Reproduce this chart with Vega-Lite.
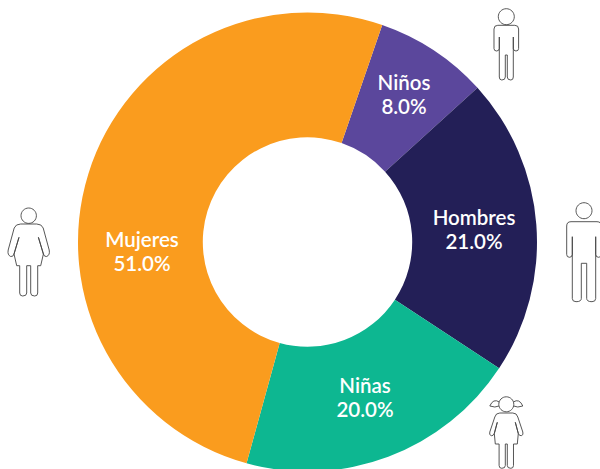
{
"$schema":"https://vega.github.io/schema/vega-lite/v6.json",
"width":600,"height":469,"padding":0,
"autosize":{"type":"none"},
"background":"#ffffff",
"view":{"stroke":null},
"datasets":{
"segmentos":[
{"categoria":"Niños","valor":8,"orden":1,"etiqueta":"Niños\n8.0%","ex":96.5,"ey":158,"cx":0,"cy":0},
{"categoria":"Hombres","valor":21,"orden":2,"etiqueta":"Hombres\n21.0%","ex":166.5,"ey":23,"cx":0,"cy":0},
{"categoria":"Niñas","valor":20,"orden":3,"etiqueta":"Niñas\n20.0%","ex":57.5,"ey":-145,"cx":0,"cy":0},
{"categoria":"Mujeres","valor":51,"orden":4,"etiqueta":"Mujeres\n51.0%","ex":-165.5,"ey":1,"cx":0,"cy":0}
],
"figuras":[
{"figura":"Niño","fx":198.8,"fy":198},
{"figura":"Hombre","fx":276.5,"fy":-13},
{"figura":"Mujer","fx":-278.8,"fy":-13},
{"figura":"Niña","fx":198.8,"fy":-194}
]},
"layer":[
{"data":{"name":"segmentos"},
"mark":{"type":"arc","outerRadius":229.5,"innerRadius":104.7},
"encoding":{
"x":{"field":"cx","type":"quantitative","scale":{"domain":[-307.5,292.5],"nice":false,"zero":false},"axis":null},
"y":{"field":"cy","type":"quantitative","scale":{"domain":[-227,242],"nice":false,"zero":false},"axis":null},
"theta":{"field":"valor","type":"quantitative","stack":true,"scale":{"domain":[0,100],"range":[0.3316,6.6148]}},
"order":{"field":"orden","type":"quantitative"},
"color":{"field":"categoria","type":"nominal","legend":null,"scale":{"domain":["Niños","Hombres","Niñas","Mujeres"],"range":["#5b479c","#231f57","#0db791","#fa9c1e"]}}
}},
{"data":{"name":"segmentos"},
"mark":{"type":"text","font":"Lato","fontWeight":600,"fontSize":20.5,"color":"#ffffff","align":"center","baseline":"middle","lineBreak":"\n","lineHeight":24},
"encoding":{
"x":{"field":"ex","type":"quantitative"},
"y":{"field":"ey","type":"quantitative"},
"text":{"field":"etiqueta","type":"nominal"}
}},
{"data":{"name":"figuras"},
"mark":{"type":"point","filled":false,"stroke":"#444444","strokeWidth":0.9,"size":4,"opacity":1},
"encoding":{
"x":{"field":"fx","type":"quantitative"},
"y":{"field":"fy","type":"quantitative"},
"shape":{"field":"figura","type":"nominal","legend":null,"scale":{"domain":["Niño","Hombre","Mujer","Niña"],"range":[
"M8,-27.3 A8,8 0 1,1 -8,-27.3 A8,8 0 1,1 8,-27.3 Z M-8.5,-18.7 L8.5,-18.7 Q12.3,-18.7 12.3,-15 L12.3,4.5 Q12.3,7 9.7,7 Q7.3,7 7,4.5 L7,-7 L7,33 Q7,36 4.5,36 Q1,36 1,33 L1,11 L-1,11 L-1,33 Q-1,36 -4.5,36 Q-7,36 -7,33 L-7,-7 L-7,4.5 Q-7.3,7 -9.7,7 Q-12.3,7 -12.3,4.5 L-12.3,-15 Q-12.3,-18.7 -8.5,-18.7 Z",
"M8,-44.3 A8,8 0 1,1 -8,-44.3 A8,8 0 1,1 8,-44.3 Z M-13,-33.3 L13,-33.3 Q17.3,-33.3 17.3,-29 L17.3,-0.5 Q17.3,2.3 14.5,2.3 Q12,2.3 11.7,-0.5 L11.7,-18.3 L11.7,43.5 Q11.7,46.7 8,46.7 Q2.7,46.7 2.7,43.5 L2.7,8.3 L-2.7,8.3 L-2.7,43.5 Q-2.7,46.7 -8,46.7 Q-11.7,46.7 -11.7,43.5 L-11.7,-18.3 L-11.7,-0.5 Q-12,2.3 -14.5,2.3 Q-17.3,2.3 -17.3,-0.5 L-17.3,-29 Q-17.3,-33.3 -13,-33.3 Z",
"M7.7,-39.3 A7.7,7.7 0 1,1 -7.7,-39.3 A7.7,7.7 0 1,1 7.7,-39.3 Z M-8,-31 L8,-31 Q13,-31 14.5,-27 L20.5,-5 Q21.5,0 18,1.5 Q15.5,2 14.7,-1 L9.7,-17.7 L14.7,-1 L12,10.7 L9,10.7 L9,38 Q9,41 6,41 Q2,41 2,38 L2,10.7 L-2,10.7 L-2,38 Q-2,41 -6,41 Q-9,41 -9,38 L-9,10.7 L-12,10.7 L-14.7,-1 L-9.7,-17.7 L-14.7,-1 Q-15.5,2 -18,1.5 Q-21.5,0 -20.5,-5 L-14.5,-27 Q-13,-31 -8,-31 Z",
"M7.5,-31.7 A7.5,7.5 0 1,1 -7.5,-31.7 A7.5,7.5 0 1,1 7.5,-31.7 Z M-7,-34 Q-13,-38 -16.5,-30 Q-11,-28 -7.4,-30 M7,-34 Q13,-38 16.5,-30 Q11,-28 7.4,-30 M-6.5,-23 L6.5,-23 Q10.5,-23 11.5,-19 L16.5,-4 Q17.5,-1 15,-0.3 Q13,0 12,-2.5 L9,-13.7 L12,-2.5 L11,8 L7.2,8 L7.2,29.5 Q7.2,32.3 4.5,32.3 Q1,32.3 1,29.5 L1,8 L-1,8 L-1,29.5 Q-1,32.3 -4.5,32.3 Q-7.2,32.3 -7.2,29.5 L-7.2,8 L-11,8 L-12,-2.5 L-9,-13.7 L-12,-2.5 Q-13,0 -15,-0.3 Q-17.5,-1 -16.5,-4 L-11.5,-19 Q-10.5,-23 -6.5,-23 Z"
]}}
}}
]
}
